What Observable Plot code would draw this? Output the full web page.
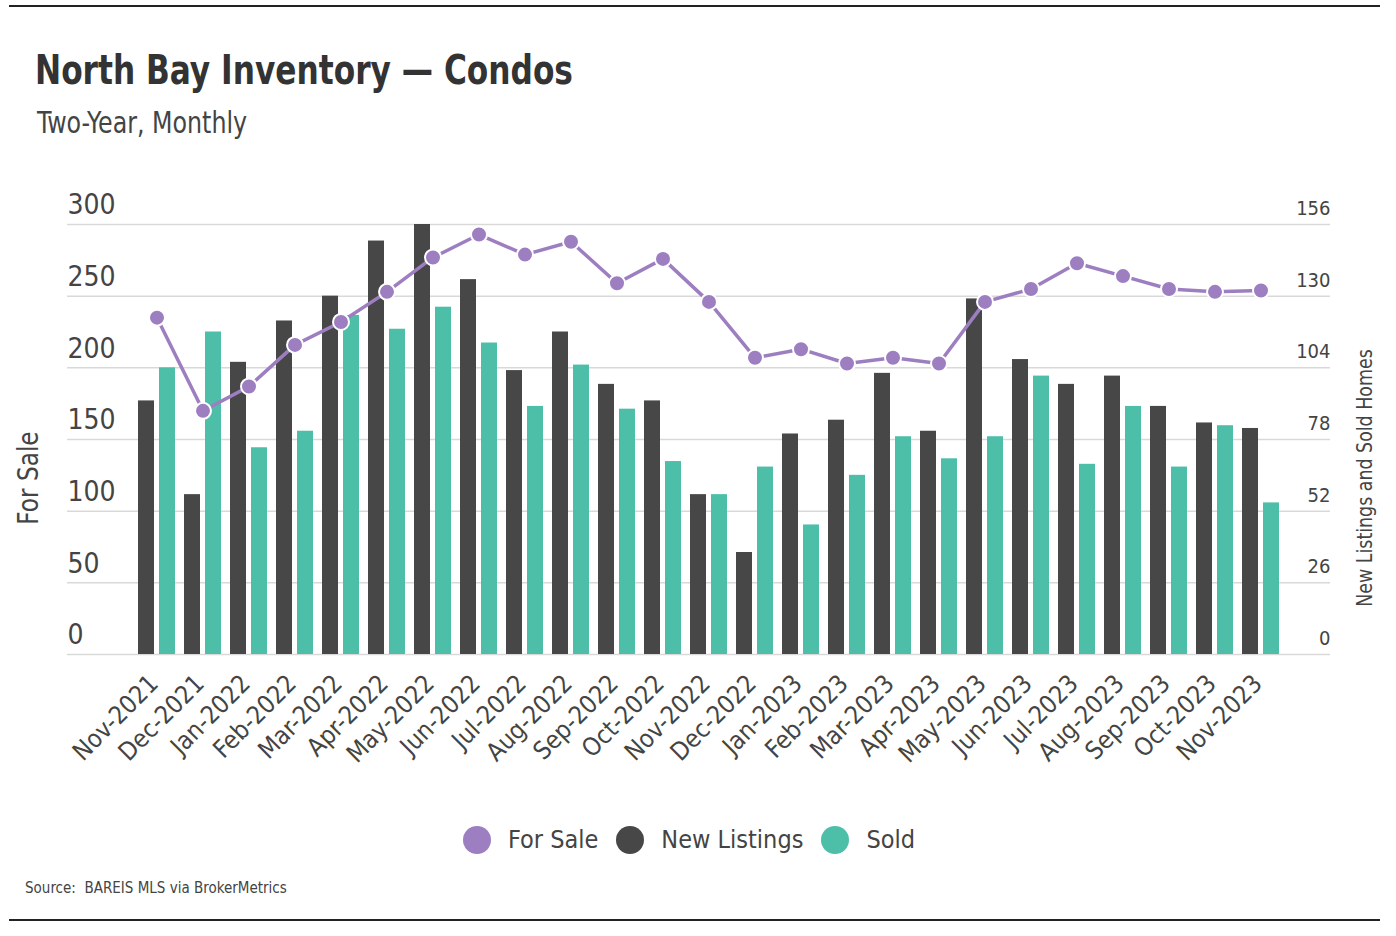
<!DOCTYPE html>
<html>
<head>
<meta charset="utf-8">
<script src="https://cdn.jsdelivr.net/npm/d3@7"></script>
<script src="https://cdn.jsdelivr.net/npm/@observablehq/plot@0.6"></script>
<style>
  body { margin: 0; background: #fff; }
  #wrap { position: relative; width: 1396px; height: 936px; overflow: hidden;
    font-family: 'Liberation Sans Narrow', 'DejaVu Sans Condensed', 'Roboto', sans-serif; color: #444; }
  .rule { position: absolute; left: 9px; width: 1371px; height: 2px; background: #222; }
  #title { position: absolute; left: 35px; top: 50px; font-size: 40px; font-weight: bold; color: #333; line-height: 1; white-space: nowrap; transform: scaleX(0.868); transform-origin: left center; }
  #subtitle { position: absolute; left: 37px; top: 108px; font-size: 30px; color: #444; line-height: 1; white-space: nowrap; transform: scaleX(0.88); transform-origin: left center; }
  #chart { position: absolute; left: 0; top: 180px; }
  #ylabL { position: absolute; left: 28px; top: 478px; font-size: 29px; line-height: 1; white-space: nowrap; transform: translate(-50%, -50%) rotate(-90deg) scaleX(0.89); color: #444; }
  #ylabR { position: absolute; left: 1365px; top: 478px; font-size: 22px; line-height: 1; white-space: nowrap; transform: translate(-50%, -50%) rotate(-90deg) scaleX(0.88); color: #444; }
  #legend { position: absolute; left: 463px; top: 826px; display: flex; align-items: center; font-size: 25px; line-height: 28px; color: #444; white-space: nowrap; }
  #legend .sw { width: 28px; height: 28px; border-radius: 50%; margin-right: 17px; }
  #legend .lab { margin-right: 18px; }
  #source { position: absolute; left: 25px; top: 881px; font-size: 15px; line-height: 1; color: #444; white-space: nowrap; }
</style>
</head>
<body>
<div id="wrap">
  <div class="rule" style="top:5px"></div>
  <div id="title">North Bay Inventory — Condos</div>
  <div id="subtitle">Two-Year, Monthly</div>
  <div id="chart"></div>
  <div id="ylabL">For Sale</div>
  <div id="ylabR">New Listings and Sold Homes</div>
  <div id="legend"></div>
  <div id="source">Source:&nbsp; BAREIS MLS via BrokerMetrics</div>
  <div class="rule" style="top:919px"></div>
</div>
<script>
const months = ["Nov-2021","Dec-2021","Jan-2022","Feb-2022","Mar-2022","Apr-2022","May-2022","Jun-2022",
  "Jul-2022","Aug-2022","Sep-2022","Oct-2022","Nov-2022","Dec-2022","Jan-2023","Feb-2023","Mar-2023",
  "Apr-2023","May-2023","Jun-2023","Jul-2023","Aug-2023","Sep-2023","Oct-2023","Nov-2023"];
const forSale = [235,170,187,216,232,253,277,293,279,288,259,276,246,207,213,203,207,203,246,255,273,264,255,253,254];
const newListings = [92,58,106,121,130,150,156,136,103,117,98,92,58,37,80,85,102,81,129,107,98,101,90,84,82];
const sold = [104,117,75,81,123,118,126,113,90,105,89,70,58,68,47,65,79,71,79,101,69,90,68,83,55];
const leftTicks = [0,50,100,150,200,250,300];
const rightTicks = [0,26,52,78,104,130,156];
const seriesNames = ["For Sale","New Listings","Sold"];
const seriesColors = ["#9d7fc1","#474747","#4dbea8"];

const FONT = "'Liberation Sans Narrow', 'DejaVu Sans Condensed', 'Roboto', sans-serif";
const ratio = 300 / 156; // right axis (listings / sold) onto the left scale
const rows = months.map((m, i) => ({month: m, forSale: forSale[i], newListings: newListings[i], sold: sold[i]}));

const chart = Plot.plot({
  width: 1396,
  height: 604,
  marginLeft: 67,
  marginRight: 66,
  marginTop: 44,
  marginBottom: 130,
  style: {fontFamily: FONT, color: "#444", background: "transparent", overflow: "visible"},
  x: {type: "band", domain: months, range: [127, 1291], paddingInner: 0.19, paddingOuter: 0, align: 0.5},
  y: {domain: [0, 300]},
  marks: [
    Plot.ruleY(leftTicks, {stroke: "#d9d9d9", strokeWidth: 1.5}),
    Plot.barY(rows, {x: "month", y: d => d.newListings * ratio, fill: seriesColors[1], insetRight: 21}),
    Plot.barY(rows, {x: "month", y: d => d.sold * ratio, fill: seriesColors[2], insetLeft: 21}),
    Plot.line(rows, {x: "month", y: "forSale", stroke: seriesColors[0], strokeWidth: 3.5}),
    Plot.dot(rows, {x: "month", y: "forSale", r: 8, fill: seriesColors[0], stroke: "white", strokeWidth: 2}),
    Plot.axisY(leftTicks, {anchor: "left", tickSize: 0, tickPadding: 0, textAnchor: "start", dy: -19, fontSize: 28, label: null}),
    Plot.axisY(leftTicks, {anchor: "right", tickSize: 0, tickPadding: 0, textAnchor: "end", dy: -16, fontSize: 20, label: null,
      tickFormat: d => String(rightTicks[leftTicks.indexOf(d)])}),
    Plot.axisX({tickSize: 0, tickPadding: 10, tickRotate: -45, fontSize: 25, dx: -3, dy: 15, label: null})
  ]
});
document.getElementById("chart").appendChild(chart);

const legend = document.getElementById("legend");
seriesNames.forEach((name, i) => {
  const sw = document.createElement("span");
  sw.className = "sw";
  sw.style.background = seriesColors[i];
  const lab = document.createElement("span");
  lab.className = "lab";
  lab.textContent = name;
  legend.appendChild(sw);
  legend.appendChild(lab);
});
</script>
</body>
</html>
